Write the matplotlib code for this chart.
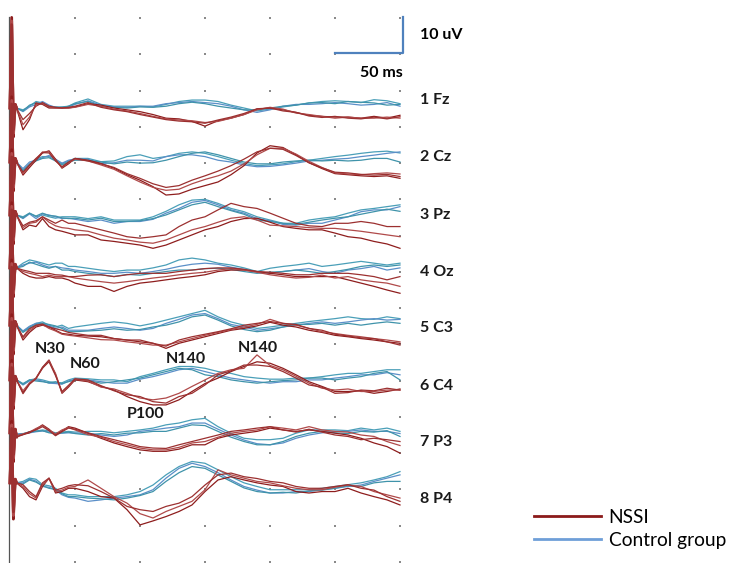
import matplotlib
matplotlib.use("Agg")
import matplotlib.pyplot as plt
import numpy as np
from matplotlib.lines import Line2D

# time after stimulus (ms) for the traced points
t_ms = [5, 10, 15, 20, 25, 30, 35, 40, 45, 50,
        60, 70, 80, 90, 100, 110, 120, 130, 140, 150,
        160, 170, 180, 190, 200, 210, 220, 230, 240, 250,
        260, 270, 280, 290, 300]

channel_names = ["1 Fz", "2 Cz", "3 Pz", "4 Oz", "5 C3", "6 C4", "7 P3", "8 P4"]
channel_base = [-29.8, -44.7, -59.3, -73.9, -89.7, -104.8, -119.4, -133.2]   # uV row baselines
label_y = [-27.6, -43.4, -59.2, -74.9, -90.5, -106.5, -121.9, -137.7]
spike_hi = [25, 18, 18, 18, 18, 18, 20, 17]   # stimulus artefact
spike_lo = [-8, -8, -8, -8, -8, -8, -8, -10]

# ---- 1 Fz
fz_nssi = [
    [0, -6.0, -3.2, 1.4, 1.0, 0, 0, 0, 0, 0.3, 1.2, 0.8, 0, -0.5, -1.0, -1.8, -2.8, -3.0, -3.7, -5.0,
     -3.5, -2.8, -1.8, -0.3, 0, -0.5, -1.2, -2.0, -2.3, -2.5, -2.5, -2.8, -2.3, -2.8, -2.0],
    [0, -4.6, -2.5, 1.0, 1.2, 0.3, 0, 0, 0, 0.2, 1.0, 0.5, -0.3, -0.8, -1.5, -2.3, -3.0, -3.3, -3.5, -4.0,
     -3.7, -2.8, -1.8, -0.5, 0.2, -0.3, -1.4, -1.8, -2.3, -2.8, -2.5, -2.8, -2.8, -2.5, -2.8],
    [0, -3.2, -1.5, 0.5, 1.5, 0.5, 0.2, 0, 0.2, 0.5, 1.5, 0.2, -0.5, -1.0, -1.8, -2.5, -3.2, -3.6, -3.8, -4.2,
     -3.3, -2.5, -1.5, -0.2, 0, -0.8, -1.2, -2.2, -2.6, -2.3, -2.8, -3.0, -2.5, -3.0, -2.4],
]
fz_ctrl = [
    [0, -0.5, 0.5, 1.8, 1.4, 0.5, 0.3, 0, 0.5, 1.4, 2.5, 1.0, 0.5, 0.5, 0.5, 0.3, 1.0, 1.8, 2.2, 2.2,
     1.8, 0.8, 0, -0.8, -0.3, 0.3, 0.8, 1.4, 1.8, 2.0, 1.8, 1.5, 2.3, 2.0, 1.2],
    [0, -1.0, 0.3, 1.0, 1.8, 0.8, 0.2, 0.2, 0.3, 1.0, 2.0, 0.8, 0.3, 0.2, 0.5, 0.5, 1.2, 1.5, 1.8, 1.5,
     1.2, 0.5, -0.5, -1.2, -0.5, 0.5, 1.0, 1.0, 1.2, 1.5, 1.2, 0.8, 1.0, 1.5, 0.5],
    [0, -0.8, 0.8, 1.4, 1.2, 0.3, 0.2, 0.3, 0.5, 1.2, 1.8, 0.5, 0.2, 0.0, 0.3, 0.2, 0.5, 1.2, 1.6, 1.2,
     0.5, 0, -0.5, -0.5, 0, 0.5, 0.8, 1.4, 1.5, 1.2, 1.8, 1.6, 1.4, 0.8, 1.0],
]

# ---- 2 Cz
cz_nssi = [
    [0, -3.6, -1.5, 0.5, 2.5, 3.1, 0.8, -1.7, -0.5, 1.0, 0.5, -0.4, -1.7, -3.5, -5.0, -6.8, -9.1, -8.8, -7.5, -6.5,
     -5.5, -3.5, -1.0, 2.5, 4.5, 4.0, 2.0, -0.2, -1.8, -3.2, -3.5, -3.8, -4.0, -3.8, -4.5],
    [0, -3.2, -1.0, 0.8, 2.8, 2.8, 0.5, -1.5, -0.2, 0.8, 0.3, -0.8, -2.0, -3.8, -5.5, -7.0, -7.8, -7.5, -6.0, -4.8,
     -3.8, -2.5, -0.5, 2.0, 3.8, 3.8, 2.2, 0.2, -1.5, -3.0, -3.3, -3.5, -3.2, -3.0, -3.3],
    [0, -2.8, -0.8, 1.0, 2.6, 2.5, 0.3, -1.3, 0, 1.0, 0.3, -0.5, -1.5, -3.2, -4.5, -6.0, -7.0, -6.5, -5.0, -3.8,
     -2.5, -1.0, 0.8, 2.8, 3.8, 3.5, 1.8, -0.2, -1.6, -2.8, -3.0, -3.4, -3.6, -3.4, -4.0],
]
cz_ctrl = [
    [0, -2.2, -0.5, 0.8, 1.5, 1.5, 0.5, -0.5, 0.3, 1.0, 1.0, 0.1, 0.3, 1.5, 2.0, 1.0, 1.5, 2.4, 2.8, 2.4,
     1.5, 0.5, -0.4, -1.0, -0.8, -0.5, 0.1, 0.5, 1.0, 1.5, 1.9, 2.4, 2.8, 3.0, 2.5],
    [0, -1.8, 0, 0.5, 1.2, 1.8, 0.8, -0.3, 0.5, 0.8, 0.8, -0.4, -0.2, 0.5, 0.5, 0.3, 1.5, 2.0, 2.0, 1.5,
     0.5, 0, -0.8, -1.3, -1.2, -0.8, -0.3, 0.3, 0.5, 0.8, 1.0, 1.5, 1.9, 2.4, 2.8],
    [0, -2.5, -0.8, 0.3, 1.0, 1.2, 0.3, -0.8, 0, 0.5, 0.5, 0, -0.5, 0, -0.3, -0.2, 0.5, 1.5, 2.4, 2.8,
     2.0, 1.0, 0, -0.5, -0.5, 0, 0.3, 0.5, 0.3, 0.5, 0.3, 0.5, 1.0, 1.0, 0.0],
]

# ---- 3 Pz
pz_nssi = [
    [0, -4.1, -2.8, -3.2, -1.0, -3.2, -4.1, -4.5, -5.0, -5.5, -5.5, -6.9, -7.3, -7.8, -8.3, -9.2, -8.3, -6.9, -5.5, -4.1,
     -3.2, -1.8, -1.0, -0.9, -2.0, -3.2, -3.7, -4.1, -4.1, -5.0, -6.0, -6.4, -7.3, -8.0, -9.2],
    [0, -3.5, -2.3, -2.0, -0.5, -2.0, -3.0, -3.5, -3.7, -4.1, -4.5, -5.5, -6.4, -6.9, -7.5, -7.8, -6.9, -5.5, -4.1, -3.2,
     -2.0, -0.9, -0.5, -1.4, -2.8, -3.0, -3.2, -3.5, -3.7, -3.7, -4.1, -4.5, -5.0, -5.5, -6.0],
    [0, -3.0, -2.0, -1.6, -0.5, -1.4, -2.3, -1.4, -2.3, -2.3, -3.2, -4.1, -5.0, -6.0, -6.4, -6.0, -5.5, -3.2, -1.4, -0.5,
     1.4, 3.2, 2.3, 1.8, 0.5, -0.9, -2.3, -3.0, -3.2, -2.3, -2.3, -1.8, -2.3, -3.2, -3.2],
]
pz_ctrl = [
    [0, -0.5, 0.5, -0.5, 0, -0.5, -0.9, -0.5, -0.5, -0.5, -1.0, -0.5, -1.4, -1.4, -1.4, -0.5, 1.0, 2.8, 4.1, 4.3,
     3.2, 1.8, 0.9, -0.5, -1.4, -2.3, -2.3, -1.4, -0.9, -0.5, 0.5, 1.4, 1.8, 2.3, 2.8],
    [0, -1.0, 0.3, -1.0, 0.3, 0, -0.5, -1.0, -0.9, -1.2, -1.8, -1.4, -2.3, -1.8, -1.8, -1.2, 0.5, 1.8, 3.5, 4.0,
     2.8, 1.4, 0.5, -1.0, -1.6, -2.6, -2.8, -2.3, -2.3, -1.4, -0.5, 0.9, 1.4, 1.4, 2.3],
    [0, -0.8, 0.5, -0.3, 0.5, -0.2, -0.3, -0.8, -1.0, -0.9, -1.4, -0.9, -1.8, -1.8, -1.6, -1.0, 0, 1.4, 2.8, 3.5,
     2.3, 1.2, 0.2, -1.4, -1.8, -2.3, -2.6, -2.0, -1.4, -0.9, -0.5, 0.2, 0.9, 1.6, 1.0],
]

# ---- 4 Oz
oz_nssi = [
    [0, -1.5, -2.4, -2.8, -2.8, -2.4, -2.8, -2.8, -3.3, -4.2, -5.1, -5.1, -6.5, -5.1, -4.2, -3.8, -3.3, -2.8, -2.4, -1.9,
     -1.0, -0.6, -0.6, -1.0, -1.5, -1.9, -2.4, -2.4, -2.4, -2.4, -3.3, -4.2, -5.1, -6.1, -7.0],
    [0, -1.0, -1.5, -1.9, -2.4, -2.0, -2.4, -2.4, -2.4, -2.8, -3.3, -3.8, -4.2, -3.8, -3.3, -2.8, -2.4, -1.9, -1.5, -1.2,
     -0.6, -0.2, -0.6, -1.2, -1.9, -2.4, -2.8, -2.6, -2.0, -2.8, -2.4, -3.3, -3.8, -4.2, -5.1],
    [0, -0.6, -1.0, -1.5, -1.5, -1.5, -1.9, -2.0, -2.4, -2.4, -2.0, -1.9, -2.4, -1.9, -1.5, -1.5, -1.5, -1.0, -0.6, -0.2,
     0, 0, -0.4, -1.0, -1.2, -1.5, -1.9, -1.9, -1.5, -1.5, -1.5, -1.9, -2.4, -3.3, -2.4],
]
oz_ctrl = [
    [0, 1.3, 2.2, 1.8, 1.3, 0.8, 1.3, 1.3, 0.4, 0.4, -0.1, -0.6, -1.0, -0.6, -0.6, 0, 0.8, 2.2, 2.7, 2.2,
     1.3, 0.8, 0, -1.0, -0.1, 0.4, 0.8, 1.3, 0.4, 0.8, 1.3, 1.8, 1.3, 0.8, 1.3],
    [0, 0.8, 1.3, 1.6, 0.8, 0.2, 0.4, 0, -0.2, -0.6, -1.0, -1.5, -1.5, -1.2, -1.5, -1.0, -0.4, 0.4, 1.0, 1.3,
     1.0, 0.2, -0.4, -1.2, -1.5, -1.0, -0.6, -0.2, -1.0, -1.5, -0.6, -0.2, 0.4, -0.6, 0],
    [0, 0.4, 1.6, 1.0, 0.4, -0.1, 0.4, -0.6, -0.6, -1.0, -1.5, -1.9, -2.4, -1.8, -2.0, -1.5, -1.0, -0.6, -0.6, -0.2,
     -0.1, -0.4, -1.0, -1.5, -1.2, -1.0, -0.6, -1.0, -1.5, -1.0, -0.4, 0.4, 0.8, 0.4, 0.8],
]

# ---- 5 C3
c3_nssi = [
    [0, -4.1, -2.0, -0.5, 0, -0.5, -1.4, -2.3, -2.5, -2.8, -3.0, -3.2, -3.7, -4.1, -4.6, -5.0, -6.4, -5.0, -4.1, -3.2,
     -2.3, -1.4, -0.9, -0.2, 0.8, 0, -0.5, -1.4, -2.0, -2.8, -3.2, -3.7, -4.1, -4.6, -5.0],
    [0, -3.5, -1.5, -0.2, 0.2, -0.9, -1.6, -2.5, -2.8, -3.0, -3.5, -4.0, -4.1, -4.6, -5.0, -5.5, -5.5, -4.6, -3.7, -2.8,
     -2.0, -1.2, -0.5, 0.2, 1.6, 0.5, 0, -0.9, -1.8, -2.3, -2.8, -3.2, -3.7, -4.1, -4.6],
    [0, -3.2, -1.0, 0, 0.3, -0.5, -1.0, -1.4, -2.0, -2.3, -2.8, -2.8, -3.7, -4.1, -4.1, -5.0, -5.8, -4.1, -3.2, -2.5,
     -1.8, -1.0, 0, 0.5, 1.0, 0.5, 0.2, -0.9, -1.4, -2.5, -3.0, -3.5, -3.7, -4.6, -5.5],
]
c3_ctrl = [
    [0, -1.8, -0.5, 0.5, 0.9, 0, -0.5, 0, -0.9, -0.5, 0, 0.5, 0.9, 0.5, -0.2, 0.5, 1.4, 2.3, 3.2, 4.1,
     2.3, 0.9, 0, -0.9, -0.5, 0, 0.5, 1.0, 1.4, 1.8, 2.3, 1.8, 1.6, 2.3, 1.8],
    [0, -1.6, -0.3, 0.5, 0.5, -0.2, -0.9, -0.5, -1.4, -1.4, -1.4, -0.9, -0.5, -0.9, -1.4, -0.9, 0.5, 1.6, 2.8, 3.2,
     1.8, 0.2, -0.5, -1.4, -1.0, -0.5, 0, 0.5, 0.9, 0.5, 0.9, 1.4, 1.8, 1.4, 1.6],
    [0, -2.0, -0.8, 0.2, 0.5, 0.2, -0.2, -0.9, -1.8, -1.8, -1.6, -1.4, -1.0, -1.4, -1.2, -0.5, 0, 0.9, 2.3, 2.8,
     1.4, -0.2, -1.2, -1.8, -1.4, -0.5, 0.2, 0.2, 0.5, 0, 0.5, 0, 0.5, 0.9, 0.5],
]

# ---- 6 C4
c4_nssi = [
    [0, -3.5, -1.0, 0.5, 3.5, 5.5, 1.5, -3.7, -2.0, 0, -0.5, -1.8, -2.8, -4.6, -6.0, -6.9, -6.9, -5.5, -3.2, -1.0,
     0.5, 2.3, 3.7, 5.0, 4.6, 3.2, 1.4, -0.5, -1.8, -3.2, -3.2, -3.0, -3.7, -3.2, -2.5],
    [0, -3.0, -0.8, 0.5, 3.2, 5.3, 1.8, -3.5, -1.8, 0.2, -0.3, -2.0, -2.5, -3.7, -5.0, -5.5, -5.0, -3.7, -1.8, 0,
     1.8, 2.8, 3.2, 6.9, 4.0, 2.8, 1.0, -0.9, -2.3, -2.8, -2.5, -3.2, -3.2, -2.8, -2.8],
    [0, -3.8, -1.2, 0.3, 3.3, 5.0, 1.2, -3.2, -1.5, 0.3, 0, -1.6, -3.0, -4.1, -4.6, -6.0, -6.4, -4.6, -3.7, -1.4,
     1.4, 2.5, 4.1, 4.1, 3.7, 2.3, 0.5, -1.4, -2.0, -3.7, -3.5, -2.8, -3.0, -2.3, -2.8],
]
c4_ctrl = [
    [0, -1.0, 0, 0.3, 0, -0.5, -0.8, -0.8, 0, 0.5, 0.3, 0, 0, -0.5, 0.9, 1.8, 2.8, 3.7, 3.7, 3.2,
     2.3, 1.8, 0.9, 0.5, 0.2, 0.2, 0.5, 0.5, 0.9, 1.4, 1.8, 1.8, 2.3, 2.8, 2.8],
    [0, -1.4, -0.3, 0, -0.3, -0.9, -1.0, -1.2, -0.3, 0.2, 0, -0.5, -0.9, -0.9, 0.2, 0.9, 1.8, 2.8, 3.2, 2.3,
     1.4, 0.5, 0, -0.5, -0.9, -0.5, -0.5, 0, 0, 0.5, 0.9, 1.4, 1.4, 2.0, 1.4],
    [0, -1.2, 0, -0.3, -0.5, -0.8, -0.5, -1.0, -0.5, 0, -0.2, -0.9, -0.5, 0, 0.5, 1.4, 2.3, 3.2, 2.8, 1.4,
     0.9, 0, -0.5, -0.9, -0.5, -0.2, 0, 0.5, 0.5, 0, 0.5, 0.9, 1.8, 2.3, 0],
]

# ---- 7 P3
p3_nssi = [
    [-1.0, -0.5, 0, 1.0, 2.2, 1.0, -0.6, 0.5, 1.7, 1.3, -0.1, -1.5, -2.8, -3.8, -4.7, -5.1, -5.1, -4.5, -3.3, -3.3,
     -1.5, -0.6, -0.1, 0.4, 1.3, 0.8, 0.4, 0.8, 0.4, -0.1, -0.6, -1.5, -2.8, -3.8, -5.6],
    [-0.8, -0.3, 0.2, 1.2, 2.0, 0.8, -0.3, 0.8, 1.5, 0.8, -0.5, -1.2, -2.4, -3.3, -4.2, -4.7, -4.7, -4.0, -2.8, -2.4,
     -1.2, -0.1, 0.4, 0.8, 1.7, 1.3, 0.8, 1.7, 0.8, 0.4, 0.2, -0.6, -1.0, -2.4, -3.5],
    [-1.2, -0.5, 0.3, 0.8, 1.7, 0.6, -0.8, 0.3, 1.3, 1.0, 0, -1.0, -1.9, -2.8, -3.8, -4.2, -4.3, -3.3, -2.4, -1.5,
     -0.6, 0.4, 0.8, 1.3, 1.7, 0.8, 0.2, 1.0, 0.2, -0.6, -1.0, -1.9, -1.5, -1.9, -2.4],
]
p3_ctrl = [
    [-0.5, -0.3, 0.2, 0.5, 0.8, 0.5, 0, 0.2, 0.4, 0.2, 0.4, 0.4, 0, 0.4, 0.8, 1.3, 2.2, 2.7, 3.6, 4.0,
     1.7, -0.1, -1.5, -1.9, -1.9, -1.5, -0.1, 0.8, 0.8, 0.8, 0.6, 1.3, 0.8, 1.3, 0.4],
    [-0.3, -0.2, 0, 0.3, 0.5, 0.2, -0.3, -0.1, 0, -0.1, -0.1, -0.6, -1.0, -0.6, 0.4, 0.8, 1.3, 1.7, 2.7, 2.7,
     1.0, -0.6, -2.0, -3.0, -3.3, -2.8, -1.5, -0.6, 0, 0.4, 0.4, 0.8, 0.4, 0.4, -0.2],
    [-0.6, -0.3, 0.3, 0.4, 0.6, 0, -0.2, 0, 0.2, -0.2, -0.6, -0.2, -0.6, -0.1, 0, 0.4, 0.4, 1.3, 2.2, 2.0,
     0.4, -1.2, -2.4, -3.3, -3.3, -2.4, -1.0, -0.1, 0.4, 0, -0.2, 0.4, 0.2, 0.6, -1.0],
]

# ---- 8 P4
p4_nssi = [
    [0, -1.5, -3.8, -4.7, -1.0, 1.3, -2.8, -2.4, -1.5, -1.5, -2.4, -3.8, -4.2, -7.4, -11.6, -10.5, -9.3, -7.9, -6.1, -2.4,
     0.8, 1.7, 0.8, 0, -0.6, -1.0, -2.4, -2.8, -2.4, -2.4, -1.5, -2.8, -3.8, -4.7, -6.1],
    [0, -1.0, -3.0, -4.2, -0.5, 1.2, -2.4, -2.0, -1.2, -1.0, 0.8, -1.5, -3.8, -5.6, -8.5, -9.7, -7.9, -6.5, -5.1, -1.9,
     3.6, 2.2, 1.3, 0.4, 0, -0.8, -1.5, -1.9, -1.9, -1.2, -0.6, -1.0, -2.4, -3.3, -4.2],
    [0, -0.5, -2.4, -3.8, 0, 1.3, -2.0, -1.5, -0.8, -0.5, -0.8, -2.4, -4.2, -6.5, -7.4, -7.9, -6.5, -5.6, -3.8, -0.6,
     2.2, 2.7, 1.7, 1.2, 0.4, 0, -1.0, -1.5, -1.5, -1.0, -0.5, -1.5, -2.0, -3.8, -5.1],
]
p4_ctrl = [
    [0, 0.4, 1.3, 1.0, -0.5, -0.8, -1.5, -2.8, -3.3, -3.3, -3.8, -3.8, -3.8, -3.3, -2.4, -0.6, 2.2, 4.5, 5.9, 5.4,
     3.6, 1.7, 0, -1.0, -1.9, -1.9, -1.9, -1.9, -1.5, -1.0, -0.5, 0, 0.8, 1.7, 3.1],
    [0, 0, 1.0, 0.5, -1.0, -1.2, -2.0, -3.3, -4.0, -4.2, -5.1, -4.7, -4.2, -3.8, -3.3, -1.9, 1.3, 4.0, 5.4, 4.5,
     2.8, 0.8, -1.0, -2.0, -2.8, -2.8, -2.4, -2.4, -1.9, -1.5, -1.0, -0.6, 0.4, 1.3, 2.2],
    [0, -0.3, 0.8, 0.2, -0.8, -1.5, -1.8, -3.0, -3.8, -3.8, -4.2, -4.4, -4.7, -4.2, -3.5, -2.4, 0.4, 2.8, 4.5, 4.0,
     2.2, 0.4, -1.4, -2.4, -2.8, -2.6, -2.8, -2.2, -2.0, -1.5, -0.8, -1.0, 0, 0.4, 0.4],
]

nssi_all = [fz_nssi, cz_nssi, pz_nssi, oz_nssi, c3_nssi, c4_nssi, p3_nssi, p4_nssi]
ctrl_all = [fz_ctrl, cz_ctrl, pz_ctrl, oz_ctrl, c3_ctrl, c4_ctrl, p3_ctrl, p4_ctrl]

# component labels drawn on C3/C4
peak_names = ["N30", "N60", "N140", "N140", "P100"]
peak_t = [31, 58, 135, 191, 104]
peak_y = [-96.2, -100.4, -99.0, -95.9, -114.2]

red_cols = ["#8e1d1d", "#b04a4a", "#9c3030"]
blue_cols = ["#4a9fb8", "#5b8fc8", "#3f93aa"]

# figure is mapped so that 1 ms = 1.3 px and 1 uV = 3.625 px
fig = plt.figure(figsize=(7.34, 5.63), dpi=100)
ax = fig.add_axes([0, 0, 1, 1])
ax.set_xlim(-10 / 1.3, 724 / 1.3)
ax.set_ylim(-563 / 3.625, 0)
ax.axis("off")

font = ["Lato", "DejaVu Sans"]

# dotted grid (every 50 ms / 10 uV)
gx, gy = np.meshgrid(np.arange(50, 301, 50), -5 - 10 * np.arange(16))
ax.scatter(gx.ravel(), gy.ravel(), s=3.5, marker="s", color="#8a8a8a", lw=0, zorder=1)

# left axis line
ax.axvline(-0.4, ymax=1 - 17 / 563, color="#555555", lw=0.9, zorder=2)

t_arr = np.array(t_ms)
for i in range(8):
    base = channel_base[i]
    for j, tr in enumerate(ctrl_all[i]):
        tt = np.concatenate([[2.5], t_arr])
        vv = np.concatenate([[0], tr])
        ax.plot(tt, base + vv, color=blue_cols[j], lw=0.9, zorder=3)
    for j, tr in enumerate(nssi_all[i]):
        tt = np.concatenate([[0, 1.3, 2.6, 4.0], t_arr])
        vv = np.concatenate([[0, spike_hi[i] - j, spike_lo[i] + j, 1.0], tr])
        ax.plot(tt, base + vv, color=red_cols[j], lw=0.9, zorder=4)
        # artefact part drawn heavier, as in the original
        ax.plot(tt[:5], base + vv[:5], color=red_cols[j], lw=2.0, zorder=4)
    ax.text(315, label_y[i], channel_names[i], fontsize=11.5, fontweight="bold",
            family=font, va="center", ha="left", color="#1a1a1a")

for name, tx, ty in zip(peak_names, peak_t, peak_y):
    ax.text(tx, ty, name, fontsize=11.5, fontweight="bold", family=font,
            ha="center", va="center", color="#1a1a1a")

# calibration bar: 50 ms x 10 uV
ax.plot([250, 302, 302], [-14.6, -14.6, -4.7], color="#4f81bd", lw=1.6, zorder=5)
ax.text(315, -9.7, "10 uV", fontsize=11.5, fontweight="bold", family=font, va="center")
ax.text(302, -20.1, "50 ms", fontsize=11.5, fontweight="bold", family=font, va="center", ha="right")

handles = [Line2D([], [], color="#8b1a1a", lw=2), Line2D([], [], color="#6f9fd8", lw=2)]
ax.legend(handles, ["NSSI", "Control group"], loc="upper left",
          bbox_to_anchor=(534 / 734, 1 - 509 / 563), frameon=False,
          prop={"family": font, "size": 13.8}, handlelength=3.5, handletextpad=0.4,
          borderpad=0, borderaxespad=0, labelspacing=0.3)

fig.savefig("out.png", dpi=100)
